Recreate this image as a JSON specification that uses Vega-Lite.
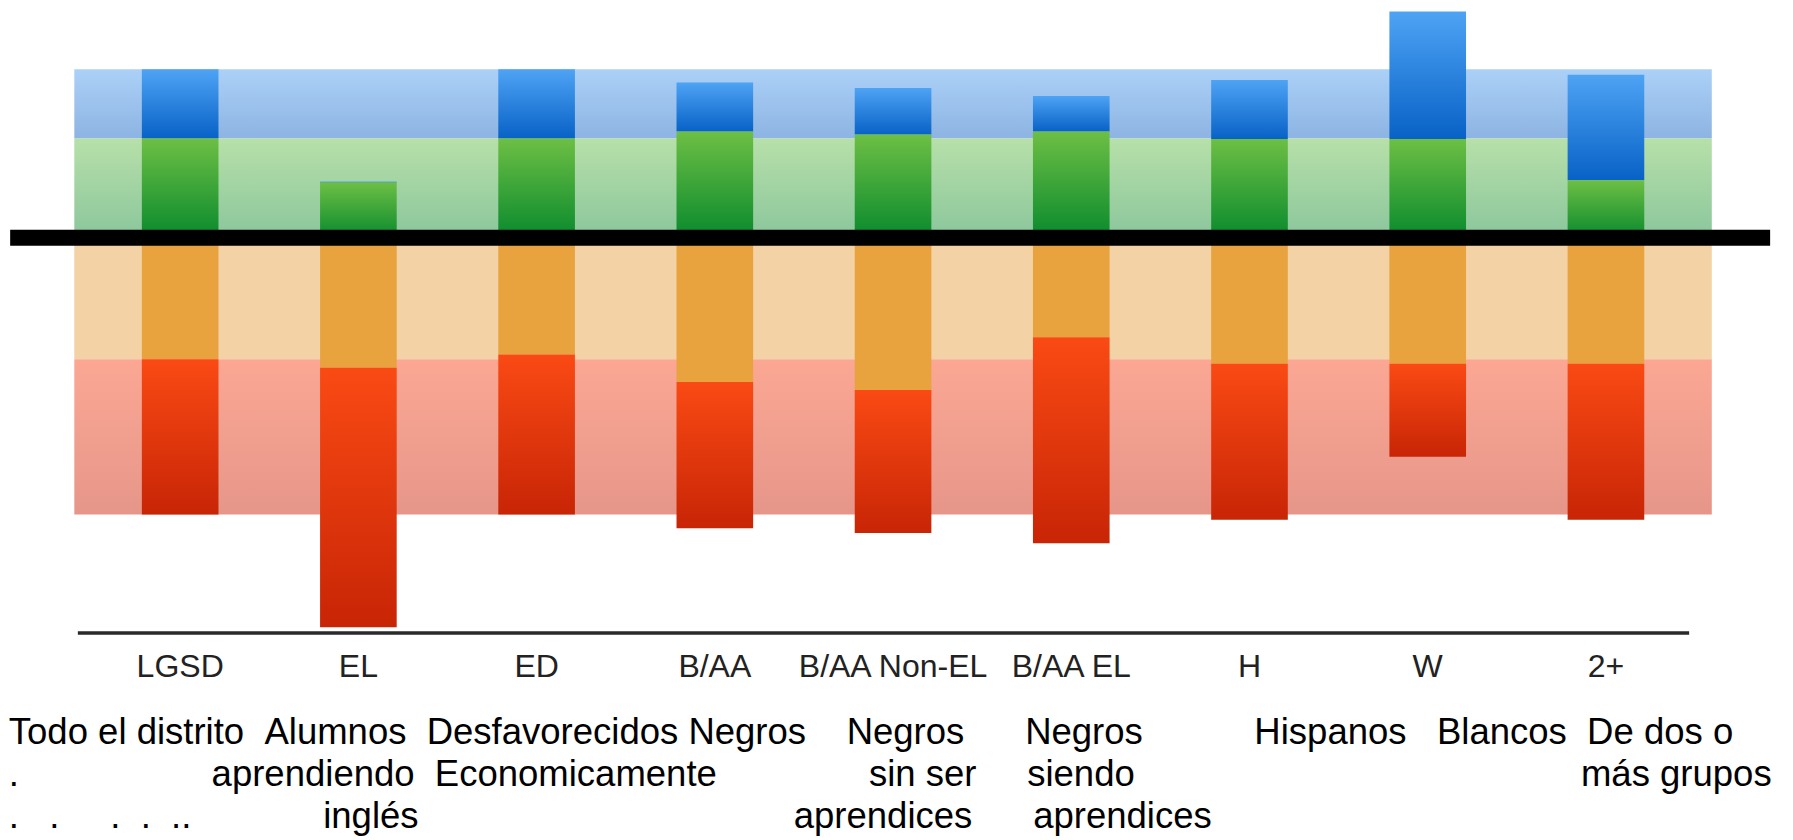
{
  "$schema": "https://vega.github.io/schema/vega-lite/v6.json",
  "width": 1637.5,
  "height": 633,
  "autosize": {"type": "none"},
  "padding": {"left": 74.3, "top": 0, "right": 81.2, "bottom": 207},
  "background": "white",
  "config": {"view": {"stroke": null}},
  "data": {
    "values": [
      {"group": "LGSD", "level": "3", "rank": 1, "value": 22.3},
      {"group": "LGSD", "level": "4", "rank": 2, "value": 15.6},
      {"group": "LGSD", "level": "2", "rank": 3, "value": -27.4},
      {"group": "LGSD", "level": "1", "rank": 4, "value": -34.9},
      {"group": "EL", "level": "3", "rank": 1, "value": 12.4},
      {"group": "EL", "level": "4", "rank": 2, "value": 0.25},
      {"group": "EL", "level": "2", "rank": 3, "value": -29.3},
      {"group": "EL", "level": "1", "rank": 4, "value": -58.4},
      {"group": "ED", "level": "3", "rank": 1, "value": 22.3},
      {"group": "ED", "level": "4", "rank": 2, "value": 15.6},
      {"group": "ED", "level": "2", "rank": 3, "value": -26.3},
      {"group": "ED", "level": "1", "rank": 4, "value": -36.0},
      {"group": "B/AA", "level": "3", "rank": 1, "value": 23.9},
      {"group": "B/AA", "level": "4", "rank": 2, "value": 11.0},
      {"group": "B/AA", "level": "2", "rank": 3, "value": -32.5},
      {"group": "B/AA", "level": "1", "rank": 4, "value": -32.9},
      {"group": "B/AA Non-EL", "level": "3", "rank": 1, "value": 23.2},
      {"group": "B/AA Non-EL", "level": "4", "rank": 2, "value": 10.5},
      {"group": "B/AA Non-EL", "level": "2", "rank": 3, "value": -34.3},
      {"group": "B/AA Non-EL", "level": "1", "rank": 4, "value": -32.2},
      {"group": "B/AA EL", "level": "3", "rank": 1, "value": 23.9},
      {"group": "B/AA EL", "level": "4", "rank": 2, "value": 8.0},
      {"group": "B/AA EL", "level": "2", "rank": 3, "value": -22.4},
      {"group": "B/AA EL", "level": "1", "rank": 4, "value": -46.4},
      {"group": "H", "level": "3", "rank": 1, "value": 22.2},
      {"group": "H", "level": "4", "rank": 2, "value": 13.3},
      {"group": "H", "level": "2", "rank": 3, "value": -28.4},
      {"group": "H", "level": "1", "rank": 4, "value": -35.1},
      {"group": "W", "level": "3", "rank": 1, "value": 22.2},
      {"group": "W", "level": "4", "rank": 2, "value": 28.7},
      {"group": "W", "level": "2", "rank": 3, "value": -28.4},
      {"group": "W", "level": "1", "rank": 4, "value": -20.9},
      {"group": "2+", "level": "3", "rank": 1, "value": 12.9},
      {"group": "2+", "level": "4", "rank": 2, "value": 23.8},
      {"group": "2+", "level": "2", "rank": 3, "value": -28.4},
      {"group": "2+", "level": "1", "rank": 4, "value": -35.1}
    ]
  },
  "transform": [
    {"stack": "value", "groupby": ["group"], "sort": [{"field": "rank", "order": "ascending"}], "as": ["v0", "v1"]}
  ],
  "layer": [
    {
      "transform": [{"filter": "datum.group === 'LGSD' && datum.level === '4'"}],
      "mark": {"type": "rect", "fill": {"gradient": "linear", "x1": 0, "y1": 0, "x2": 0, "y2": 1, "stops": [{"offset": 0, "color": "#abd1f8"}, {"offset": 1, "color": "#8db4e2"}]}},
      "encoding": {
        "y": {"field": "v0", "type": "quantitative", "scale": {"domain": [-89, 53.5], "nice": false, "zero": false}, "axis": null},
        "y2": {"field": "v1"}
      }
    },
    {
      "transform": [{"filter": "datum.group === 'LGSD' && datum.level === '3'"}],
      "mark": {"type": "rect", "fill": {"gradient": "linear", "x1": 0, "y1": 0, "x2": 0, "y2": 1, "stops": [{"offset": 0, "color": "#b7e0a9"}, {"offset": 1, "color": "#8bc69c"}]}},
      "encoding": {
        "y": {"field": "v0", "type": "quantitative", "scale": {"domain": [-89, 53.5], "nice": false, "zero": false}, "axis": null},
        "y2": {"field": "v1"}
      }
    },
    {
      "transform": [{"filter": "datum.group === 'LGSD' && datum.level === '2'"}],
      "mark": {"type": "rect", "fill": "#f3d2a5"},
      "encoding": {
        "y": {"field": "v0", "type": "quantitative", "scale": {"domain": [-89, 53.5], "nice": false, "zero": false}, "axis": null},
        "y2": {"field": "v1"}
      }
    },
    {
      "transform": [{"filter": "datum.group === 'LGSD' && datum.level === '1'"}],
      "mark": {"type": "rect", "fill": {"gradient": "linear", "x1": 0, "y1": 0, "x2": 0, "y2": 1, "stops": [{"offset": 0, "color": "#fba794"}, {"offset": 1, "color": "#e69689"}]}},
      "encoding": {
        "y": {"field": "v0", "type": "quantitative", "scale": {"domain": [-89, 53.5], "nice": false, "zero": false}, "axis": null},
        "y2": {"field": "v1"}
      }
    },
    {
      "encoding": {
        "x": {
          "field": "group",
          "type": "nominal",
          "sort": null,
          "scale": {"paddingInner": 0.57, "paddingOuter": 0.379},
          "title": [
            "Todo el distrito\u00a0\u00a0Alumnos\u00a0\u00a0Desfavorecidos Negros\u00a0\u00a0\u00a0\u00a0Negros\u00a0\u00a0\u00a0\u00a0\u00a0\u00a0Negros\u00a0\u00a0\u00a0\u00a0\u00a0\u00a0\u00a0\u00a0\u00a0\u00a0\u00a0Hispanos\u00a0\u00a0\u00a0Blancos\u00a0\u00a0De dos o",
            ".\u00a0\u00a0\u00a0\u00a0\u00a0\u00a0\u00a0\u00a0\u00a0\u00a0\u00a0\u00a0\u00a0\u00a0\u00a0\u00a0\u00a0\u00a0\u00a0aprendiendo\u00a0\u00a0Economicamente\u00a0\u00a0\u00a0\u00a0\u00a0\u00a0\u00a0\u00a0\u00a0\u00a0\u00a0\u00a0\u00a0\u00a0\u00a0sin ser\u00a0\u00a0\u00a0\u00a0\u00a0siendo\u00a0\u00a0\u00a0\u00a0\u00a0\u00a0\u00a0\u00a0\u00a0\u00a0\u00a0\u00a0\u00a0\u00a0\u00a0\u00a0\u00a0\u00a0\u00a0\u00a0\u00a0\u00a0\u00a0\u00a0\u00a0\u00a0\u00a0\u00a0\u00a0\u00a0\u00a0\u00a0\u00a0\u00a0\u00a0\u00a0\u00a0\u00a0\u00a0\u00a0\u00a0\u00a0\u00a0\u00a0más grupos",
            ".\u00a0\u00a0\u00a0.\u00a0\u00a0\u00a0\u00a0\u00a0.\u00a0\u00a0.\u00a0\u00a0..\u00a0\u00a0\u00a0\u00a0\u00a0\u00a0\u00a0\u00a0\u00a0\u00a0\u00a0\u00a0\u00a0inglés\u00a0\u00a0\u00a0\u00a0\u00a0\u00a0\u00a0\u00a0\u00a0\u00a0\u00a0\u00a0\u00a0\u00a0\u00a0\u00a0\u00a0\u00a0\u00a0\u00a0\u00a0\u00a0\u00a0\u00a0\u00a0\u00a0\u00a0\u00a0\u00a0\u00a0\u00a0\u00a0\u00a0\u00a0\u00a0\u00a0\u00a0aprendices\u00a0\u00a0\u00a0\u00a0\u00a0\u00a0aprendices"
          ],
          "axis": {
            "labelFont": "Liberation Sans",
            "labelFontSize": 32,
            "labelColor": "#222222",
            "labelPadding": 43,
            "labelBaseline": "alphabetic",
            "labelAngle": 0,
            "labelOverlap": false,
            "labelLimit": 400,
            "ticks": false,
            "tickSize": 0,
            "domain": false,
            "grid": false,
            "titleFont": "Liberation Sans",
            "titleFontSize": 36.5,
            "titleFontWeight": "normal",
            "titleColor": "#000000",
            "titleAlign": "left",
            "titleAnchor": "start",
            "titleX": -66,
            "titleY": 110,
            "titleBaseline": "alphabetic",
            "titleLineHeight": 42,
            "titleLimit": 3000
          }
        },
        "y": {"field": "v0", "type": "quantitative", "scale": {"domain": [-89, 53.5], "nice": false, "zero": false}, "axis": null},
        "y2": {"field": "v1"}
      },
      "layer": [
        {
          "transform": [{"filter": "datum.level === '4'"}],
          "mark": {"type": "bar", "fill": {"gradient": "linear", "x1": 0, "y1": 0, "x2": 0, "y2": 1, "stops": [{"offset": 0, "color": "#4ea3f4"}, {"offset": 1, "color": "#0862c6"}]}}
        },
        {
          "transform": [{"filter": "datum.level === '3'"}],
          "mark": {"type": "bar", "fill": {"gradient": "linear", "x1": 0, "y1": 0, "x2": 0, "y2": 1, "stops": [{"offset": 0, "color": "#6dbf44"}, {"offset": 1, "color": "#0a8a2d"}]}}
        },
        {
          "transform": [{"filter": "datum.level === '2'"}],
          "mark": {"type": "bar", "fill": "#e8a33e"}
        },
        {
          "transform": [{"filter": "datum.level === '1'"}],
          "mark": {"type": "bar", "fill": {"gradient": "linear", "x1": 0, "y1": 0, "x2": 0, "y2": 1, "stops": [{"offset": 0, "color": "#fa4a14"}, {"offset": 1, "color": "#c82506"}]}}
        }
      ]
    },
    {
      "transform": [{"filter": "datum.group === 'LGSD' && datum.level === '4'"}],
      "mark": {"type": "rule", "color": "#000000", "strokeWidth": 16, "xOffset": -170, "x2Offset": 164.2},
      "encoding": {
        "x": {"datum": "LGSD", "type": "nominal"},
        "x2": {"datum": "2+"},
        "y": {"datum": 0, "type": "quantitative", "scale": {"domain": [-89, 53.5], "nice": false, "zero": false}}
      }
    },
    {
      "transform": [{"filter": "datum.group === 'LGSD' && datum.level === '4'"}],
      "mark": {"type": "rule", "color": "#2a2a2a", "strokeWidth": 3.5, "xOffset": -102.3, "x2Offset": 83.2},
      "encoding": {
        "x": {"datum": "LGSD", "type": "nominal"},
        "x2": {"datum": "2+"},
        "y": {"datum": -89, "type": "quantitative", "scale": {"domain": [-89, 53.5], "nice": false, "zero": false}}
      }
    }
  ]
}
